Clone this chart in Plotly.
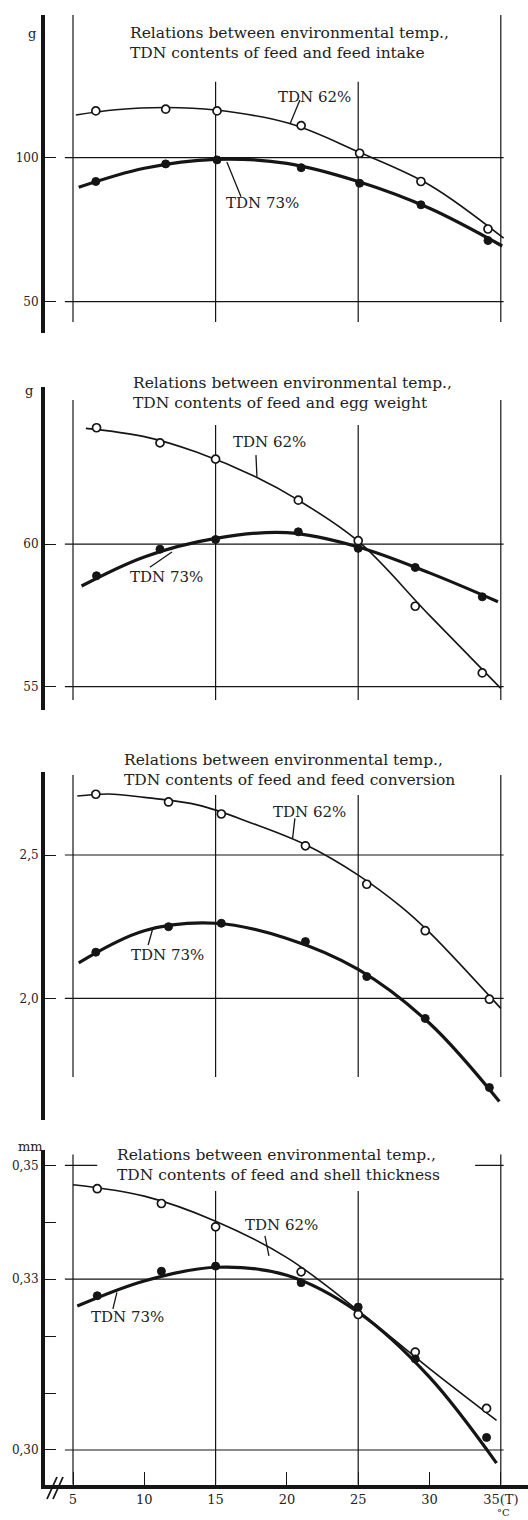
import plotly.graph_objects as go

# ---------------- data ----------------
# temperatures at which the points were plotted (each panel read separately)
intake_temps = [6.6, 11.5, 15.1, 21.0, 25.1, 29.4, 34.1]
egg_temps = [6.65, 11.1, 15.0, 20.8, 25.0, 29.0, 33.7]
conv_temps = [6.6, 11.7, 15.4, 21.3, 25.6, 29.7, 34.2]
shell_temps = [6.7, 11.2, 15.0, 21.0, 25.0, 29.0, 34.0]

# feed intake (g)
intake_62 = [116.2, 116.8, 116.2, 111.1, 101.5, 91.7, 75.2]
intake_73 = [91.7, 97.8, 99.2, 96.5, 91.1, 83.6, 71.2]
intake_curve62_x = [5.2, 8, 11.5, 15, 20.2, 25, 30, 35.2]
intake_curve62_y = [114.8, 116.6, 117.4, 116.5, 111.8, 102.0, 90.5, 72.0]
intake_curve73_x = [5.4, 10, 15, 20, 25, 30, 35.1]
intake_curve73_y = [89.7, 96.3, 99.4, 98.0, 91.7, 82.4, 69.3]

# egg weight (g)
egg_62 = [64.08, 63.55, 62.98, 61.54, 60.12, 57.82, 55.48]
egg_73 = [58.89, 59.82, 60.16, 60.43, 59.85, 59.18, 58.15]
egg_curve62_x = [5.9, 10, 13.7, 17.8, 20.8, 25, 30, 35.0]
egg_curve62_y = [64.06, 63.77, 63.22, 62.36, 61.54, 60.1, 57.5, 54.94]
egg_curve73_x = [5.6, 10, 15, 20, 25, 30, 34.8]
egg_curve73_y = [58.53, 59.55, 60.2, 60.4, 59.9, 58.99, 57.98]

# feed conversion
conv_62 = [2.712, 2.685, 2.643, 2.532, 2.398, 2.236, 1.997]
conv_73 = [2.161, 2.250, 2.262, 2.198, 2.076, 1.930, 1.689]
conv_curve62_x = [5.3, 7.5, 10, 13.8, 17.5, 21.35, 25, 28, 30, 35]
conv_curve62_y = [2.706, 2.713, 2.701, 2.674, 2.612, 2.535, 2.430, 2.320, 2.230, 1.965]
conv_curve73_x = [5.4, 10, 15, 20, 25, 30, 34.9]
conv_curve73_y = [2.124, 2.236, 2.262, 2.209, 2.101, 1.913, 1.640]

# shell thickness (mm)
shell_62 = [0.3459, 0.3433, 0.3392, 0.3313, 0.3238, 0.3172, 0.3073]
shell_73 = [0.3271, 0.3314, 0.3323, 0.3294, 0.3251, 0.3160, 0.3022]
shell_curve62_x = [5.0, 10, 15, 20, 25, 30, 34.7]
shell_curve62_y = [0.3466, 0.3446, 0.3402, 0.3338, 0.3245, 0.3143, 0.3052]
shell_curve73_x = [5.3, 10, 15, 20, 25, 30, 34.7]
shell_curve73_y = [0.3253, 0.3297, 0.3321, 0.3307, 0.3242, 0.3128, 0.2977]

x_tickvals = [5, 10, 15, 20, 25, 30, 35]
x_ticktext = ["5", "10", "15", "20", "25", "30", "35(T)"]
vgrid = [5, 15, 25, 35]

series_labels = ["TDN 62%", "TDN 73%"]
titles = [
    "Relations between environmental temp.,<br>TDN contents of feed and feed intake",
    "Relations between environmental temp.,<br>TDN contents of feed and egg weight",
    "Relations between environmental temp.,<br>TDN contents of feed and feed conversion",
    "Relations between environmental temp.,<br>TDN contents of feed and shell thickness",
]
units = ["g", "g", "", "mm"]

# ---------------- layout geometry ----------------
W, H = 528, 1520
ML, MR, MT, MB = 45, 0, 10, 30
PW, PH = W - ML - MR, H - MT - MB
PXDEG = 14.26          # pixels per degree
X_AT5 = 73             # pixel of 5 degC
x_lo = 5 - (X_AT5 - ML) / PXDEG
x_hi = x_lo + PW / PXDEG


def pxx(p):
    return (p - ML) / PW


def pxy(p):
    return 1 - (p - MT) / PH


INK = "#151515"
TXT = "#222222"
SERIF = "DejaVu Serif"
FULL = [(4.43, 35.2)]

panels = [
    dict(t=intake_temps, s62=intake_62, s73=intake_73,
         c62=(intake_curve62_x, intake_curve62_y), c73=(intake_curve73_x, intake_curve73_y),
         yr=[39.1, 149.5], px=(15, 333), grid=[(50, FULL), (100, FULL)],
         tv=[50, 100], tt=["50", "100"],
         vtop_in=126.3, vtop_out=149.5, vbot=42.95,
         title_px=(128, 43), unit_px=(32, 33),
         lab62=(21.96, 121.1), lead62=(20.91, 120.0, 20.21, 111.6),
         lab73=(18.32, 84.3), lead73=(16.78, 86.4, 15.79, 98.5)),
    dict(t=egg_temps, s62=egg_62, s73=egg_73,
         c62=(egg_curve62_x, egg_curve62_y), c73=(egg_curve73_x, egg_curve73_y),
         yr=[54.18, 65.51], px=(387, 710), grid=[(55, FULL), (60, FULL)],
         tv=[55, 60], tt=["55", "60"],
         vtop_in=64.18, vtop_out=65.05, vbot=54.53,
         title_px=(131, 392.5), unit_px=(29, 391),
         lab62=(18.81, 63.59), lead62=(17.83, 63.12, 17.9, 62.36),
         lab73=(11.59, 58.84), lead73=(10.39, 59.19, 11.94, 59.72)),
    dict(t=conv_temps, s62=conv_62, s73=conv_73,
         c62=(conv_curve62_x, conv_curve62_y), c73=(conv_curve73_x, conv_curve73_y),
         yr=[1.5757, 2.7906], px=(771.7, 1120), grid=[(2.0, FULL), (2.5, FULL)],
         tv=[2.0, 2.5], tt=["2,0", "2,5"],
         vtop_in=2.709, vtop_out=2.779, vbot=1.726,
         title_px=(122, 769.5), unit_px=None,
         lab62=(21.61, 2.651), lead62=(20.56, 2.628, 20.40, 2.558),
         lab73=(11.66, 2.151), lead73=(10.27, 2.186, 10.58, 2.241)),
    dict(t=shell_temps, s62=shell_62, s73=shell_73,
         c62=(shell_curve62_x, shell_curve62_y), c73=(shell_curve73_x, shell_curve73_y),
         yr=[0.2939, 0.3527], px=(1150, 1484.7),
         grid=[(0.30, FULL), (0.33, FULL), (0.35, [(4.43, 6.7), (33.2, 35.2)])],
         tv=[0.30, 0.31, 0.32, 0.33, 0.34, 0.35], tt=["0,30", "", "", "0,33", "", "0,35"],
         vtop_in=0.3455, vtop_out=0.3519, vbot=0.2939,
         title_px=(115, 1165), unit_px=(30, 1146),
         lab62=(19.65, 0.3396), lead62=(18.46, 0.3376, 18.74, 0.3341),
         lab73=(8.85, 0.3234), lead73=(7.80, 0.3248, 8.08, 0.3277)),
]

fig = go.Figure()
shapes = []
annotations = []
layout = {}

for i, p in enumerate(panels):
    k = "" if i == 0 else str(i + 1)
    xr, yr_ = "x" + k, "y" + k
    last = i == len(panels) - 1

    # fitted curves
    fig.add_trace(go.Scatter(x=p["c62"][0], y=p["c62"][1], mode="lines",
                             line=dict(color=INK, width=1.6, shape="spline"),
                             xaxis=xr, yaxis=yr_, showlegend=False, hoverinfo="skip"))
    fig.add_trace(go.Scatter(x=p["c73"][0], y=p["c73"][1], mode="lines",
                             line=dict(color=INK, width=3.2, shape="spline"),
                             xaxis=xr, yaxis=yr_, showlegend=False, hoverinfo="skip"))
    # observed points
    fig.add_trace(go.Scatter(x=p["t"], y=p["s62"], mode="markers", name=series_labels[0],
                             marker=dict(symbol="circle", size=8, color="white",
                                         line=dict(color=INK, width=1.7)),
                             xaxis=xr, yaxis=yr_, showlegend=False))
    fig.add_trace(go.Scatter(x=p["t"], y=p["s73"], mode="markers", name=series_labels[1],
                             marker=dict(symbol="circle", size=8, color=INK,
                                         line=dict(color=INK, width=1)),
                             xaxis=xr, yaxis=yr_, showlegend=False))

    dom_y = [pxy(p["px"][1]), pxy(p["px"][0])]
    layout["xaxis" + k] = dict(
        domain=[0, 1], range=[x_lo, x_hi], anchor=yr_,
        showgrid=False, zeroline=False,
        showline=last, linewidth=4, linecolor=INK,
        showticklabels=last, ticks="inside" if last else "",
        ticklen=13, tickwidth=1.4, tickcolor=INK,
        tickvals=x_tickvals, ticktext=x_ticktext,
        tickfont=dict(family=SERIF, size=13, color=TXT),
    )
    layout["yaxis" + k] = dict(
        domain=dom_y, range=p["yr"], anchor=xr,
        showgrid=False, zeroline=False,
        showline=True, linewidth=4, linecolor=INK,
        ticks="inside", ticklen=11, tickwidth=1.3, tickcolor=INK,
        tickvals=p["tv"], ticktext=p["tt"],
        tickfont=dict(family=SERIF, size=12, color=TXT),
    )

    # horizontal reference lines
    for g, segs in p["grid"]:
        for x0, x1 in segs:
            shapes.append(dict(type="line", xref=xr, yref=yr_, x0=x0, x1=x1, y0=g, y1=g,
                               line=dict(color=INK, width=1.2), layer="below"))
    # vertical reference lines
    for v in vgrid:
        top = p["vtop_out"] if v in (5, 35) else p["vtop_in"]
        shapes.append(dict(type="line", xref=xr, yref=yr_, x0=v, x1=v, y0=p["vbot"], y1=top,
                           line=dict(color=INK, width=1.2), layer="below"))
    # leader lines for labels
    for lead in (p["lead62"], p["lead73"]):
        shapes.append(dict(type="line", xref=xr, yref=yr_, x0=lead[0], y0=lead[1],
                           x1=lead[2], y1=lead[3], line=dict(color=INK, width=1.3)))
    # series labels
    for lab, txt in ((p["lab62"], series_labels[0]), (p["lab73"], series_labels[1])):
        annotations.append(dict(x=lab[0], y=lab[1], xref=xr, yref=yr_, text=txt,
                                xanchor="center", yanchor="middle",
                                showarrow=False, font=dict(family=SERIF, size=15, color=TXT)))
    # panel title
    tx, ty = p["title_px"]
    annotations.append(dict(x=pxx(tx), y=pxy(ty), xref="paper", yref="paper",
                            xanchor="left", yanchor="middle", align="left",
                            text=titles[i], showarrow=False,
                            font=dict(family=SERIF, size=15.5, color=TXT)))
    # unit label
    if p["unit_px"] is not None:
        ux, uy = p["unit_px"]
        annotations.append(dict(x=pxx(ux), y=pxy(uy), xref="paper", yref="paper",
                                xanchor="center", yanchor="middle",
                                text=units[i], showarrow=False,
                                font=dict(family=SERIF, size=13, color=TXT)))

# axis break marks and degree unit on the bottom axis
for dx in (0, 6):
    shapes.append(dict(type="line", xref="paper", yref="paper",
                       x0=pxx(47 + dx), y0=pxy(1499), x1=pxx(57 + dx), y1=pxy(1477),
                       line=dict(color=INK, width=1.8)))
annotations.append(dict(x=pxx(503), y=pxy(1512), xref="paper", yref="paper", text="°C",
                        xanchor="center", yanchor="middle",
                        showarrow=False, font=dict(family=SERIF, size=10, color=TXT)))

fig.update_layout(
    width=W, height=H,
    margin=dict(l=ML, r=MR, t=MT, b=MB),
    paper_bgcolor="white", plot_bgcolor="white",
    shapes=shapes, annotations=annotations,
    showlegend=False,
    **layout,
)

fig.write_html("out.html", config={"displayModeBar": False},
               post_script="document.body.style.margin='0';")
